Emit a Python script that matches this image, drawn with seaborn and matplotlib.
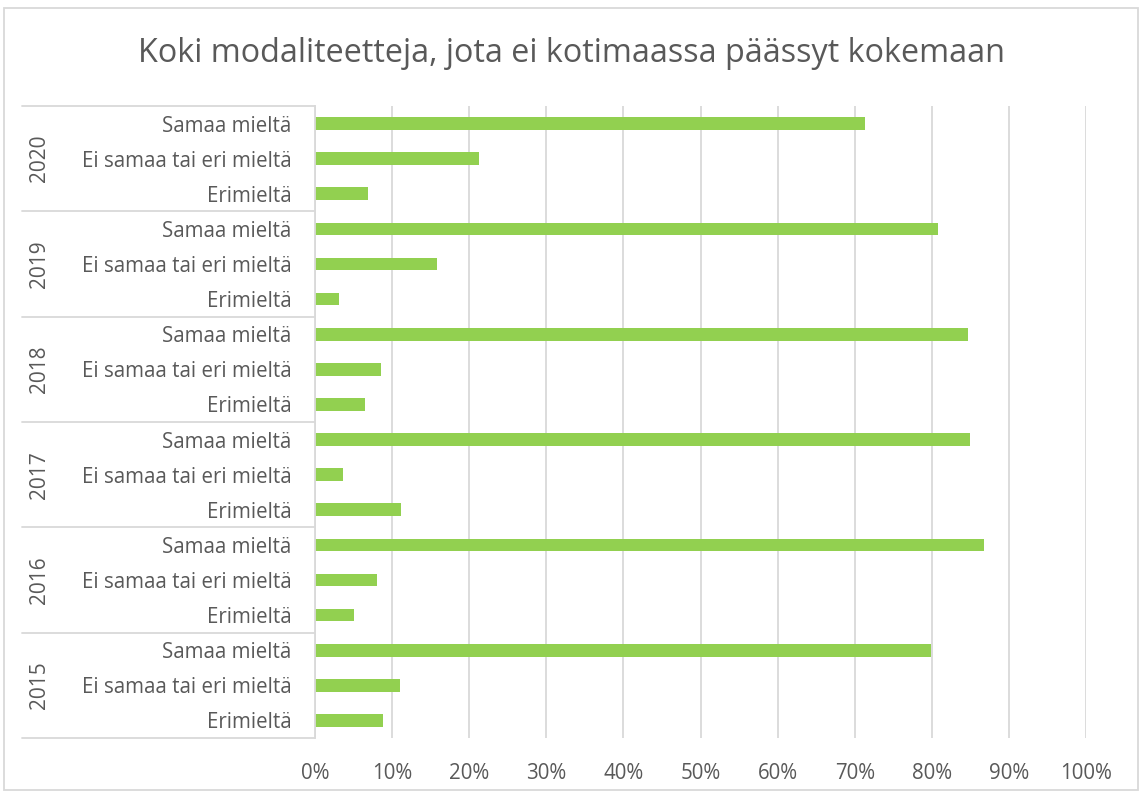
import matplotlib
matplotlib.use("Agg")
import matplotlib.pyplot as plt
import matplotlib.transforms as mtransforms
from matplotlib.patches import Rectangle
from matplotlib.ticker import PercentFormatter
import pandas as pd
import seaborn as sns

# Data (share of respondents)
years = ["2020", "2019", "2018", "2017", "2016", "2015"]
answers = ["Samaa mieltä", "Ei samaa tai eri mieltä", "Erimieltä"]
samaa = [0.714, 0.808, 0.847, 0.850, 0.868, 0.799]
ei_samaa = [0.213, 0.158, 0.085, 0.036, 0.080, 0.110]
eri = [0.069, 0.031, 0.065, 0.111, 0.050, 0.088]

rows = []
for i, y in enumerate(years):
    for a, v in zip(answers, [samaa[i], ei_samaa[i], eri[i]]):
        rows.append({"key": y + "|" + a, "year": y, "answer": a, "share": v})
df = pd.DataFrame(rows)

sns.set_theme(style="white")
plt.rcParams["font.family"] = ["Open Sans", "DejaVu Sans"]
text_col = "#595959"
grid_col = "#d9d9d9"

fig = plt.figure(figsize=(11.43, 7.92), dpi=100)
ax = fig.add_axes([315 / 1143, 1 - 738 / 792, 771 / 1143, (738 - 106) / 792])

sns.barplot(data=df, x="share", y="key", orient="h", color="#92d050",
            width=0.36, saturation=1, linewidth=0, ax=ax, order=df["key"].tolist())

ax.set_xlim(0, 1)
ax.set_ylim(len(df) - 0.5, -0.5)
ax.xaxis.set_major_formatter(PercentFormatter(1.0, decimals=0))
ax.set_xticks([i / 10 for i in range(11)])
ax.set_yticks(range(len(df)))
ax.set_yticklabels(df["answer"])
ax.tick_params(axis="y", length=0, pad=17, labelsize=14.8, labelcolor=text_col)
ax.tick_params(axis="x", length=0, pad=18, labelsize=14.8, labelcolor=text_col)
ax.set_xlabel("")
ax.set_ylabel("")
ax.grid(axis="x", color=grid_col, linewidth=1.3)
ax.set_axisbelow(True)
for s in ["top", "right", "bottom"]:
    ax.spines[s].set_visible(False)
ax.spines["left"].set_color(grid_col)
ax.spines["left"].set_linewidth(1.3)

# year groups on the category axis
trans = mtransforms.blended_transform_factory(ax.transAxes, ax.transData)
x_left = (22 - 315) / 771
for g in range(len(years) + 1):
    yy = g * 3 - 0.5
    ax.plot([x_left, 0], [yy, yy], color=grid_col, lw=1.3, transform=trans, clip_on=False)
for g, y in enumerate(years):
    ax.text((40 - 315) / 771, g * 3 + 1, y, rotation=90, ha="center", va="center",
            fontsize=15, color=text_col, transform=trans)

fig.suptitle("Koki modaliteetteja, jota ei kotimaassa päässyt kokemaan",
             y=1 - 53 / 792, va="center", fontsize=23.3, color=text_col)

fig.patches.append(Rectangle((4 / 1143, 0.002), 1134 / 1143, 1 - 8 / 792 - 0.002,
                             transform=fig.transFigure, fill=False,
                             edgecolor=grid_col, linewidth=1.3))

fig.savefig("out.png", dpi=100)
